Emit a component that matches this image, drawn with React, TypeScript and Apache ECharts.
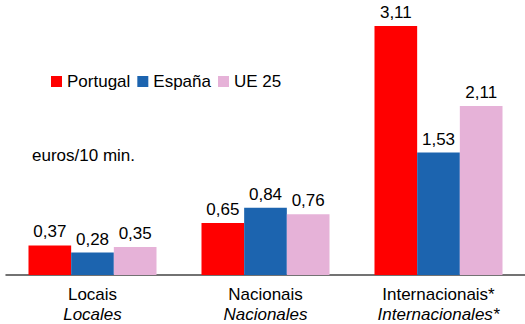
import React, { useEffect, useRef } from "react";
import * as echarts from "echarts";

const categories = ["Locais", "Nacionais", "Internacionais*"];
const categoriesEs = ["Locales", "Nacionales", "Internacionales*"];
const seriesNames = ["Portugal", "España", "UE 25"];
const portugal = [0.37, 0.65, 3.11];
const espana = [0.28, 0.84, 1.53];
const ue25 = [0.35, 0.76, 2.11];
const colors = ["#FF0000", "#1C64AF", "#E6B2D8"];

const FONT = "'Liberation Sans', Arial, sans-serif";
const TXT = "#000";

export default function App() {
  const ref = useRef<HTMLDivElement>(null);
  useEffect(() => {
    if (!ref.current) return;
    const chart = echarts.init(ref.current, undefined, { renderer: "svg" });
    const values = [portugal, espana, ue25];
    chart.setOption({
      animation: false,
      textStyle: { fontFamily: FONT },
      legend: {
        left: 51,
        top: 73,
        padding: 0,
        itemWidth: 11,
        itemHeight: 11,
        itemGap: 7,
        icon: "rect",
        data: seriesNames,
        textStyle: { fontSize: 17, color: TXT, fontFamily: FONT },
      },
      grid: { left: 6, right: 0, top: 26, bottom: 49, containLabel: false },
      xAxis: {
        type: "category",
        data: categories,
        axisTick: { show: false },
        axisLine: { lineStyle: { color: "#444", width: 1.5 } },
        axisLabel: {
          margin: 9,
          interval: 0,
          formatter: (v: string, i: number) => `{a|${v}}\n{b|${categoriesEs[i]}}`,
          rich: {
            a: { fontSize: 17, color: TXT, lineHeight: 20, fontFamily: FONT },
            b: { fontSize: 17, color: TXT, lineHeight: 20, fontStyle: "italic", fontFamily: FONT },
          },
        },
      },
      yAxis: { type: "value", min: 0, max: 3.11, show: false, splitLine: { show: false } },
      graphic: [
        {
          type: "text",
          left: 32,
          top: 147,
          style: { text: "euros/10 min.", fontSize: 17, fill: TXT, fontFamily: FONT },
        },
      ],
      series: seriesNames.map((name, si) => ({
        name,
        type: "bar",
        data: values[si],
        barGap: "0%",
        barCategoryGap: "26%",
        itemStyle: { color: colors[si] },
        label: {
          show: true,
          position: "top",
          distance: 5,
          fontSize: 17,
          color: TXT,
          fontFamily: FONT,
          formatter: (p: any) => p.value.toFixed(2).replace(".", ","),
        },
      })),
    });
    return () => chart.dispose();
  }, []);
  return <div ref={ref} style={{ width: 525, height: 324, position: "absolute", left: 0, top: 0 }} />;
}
